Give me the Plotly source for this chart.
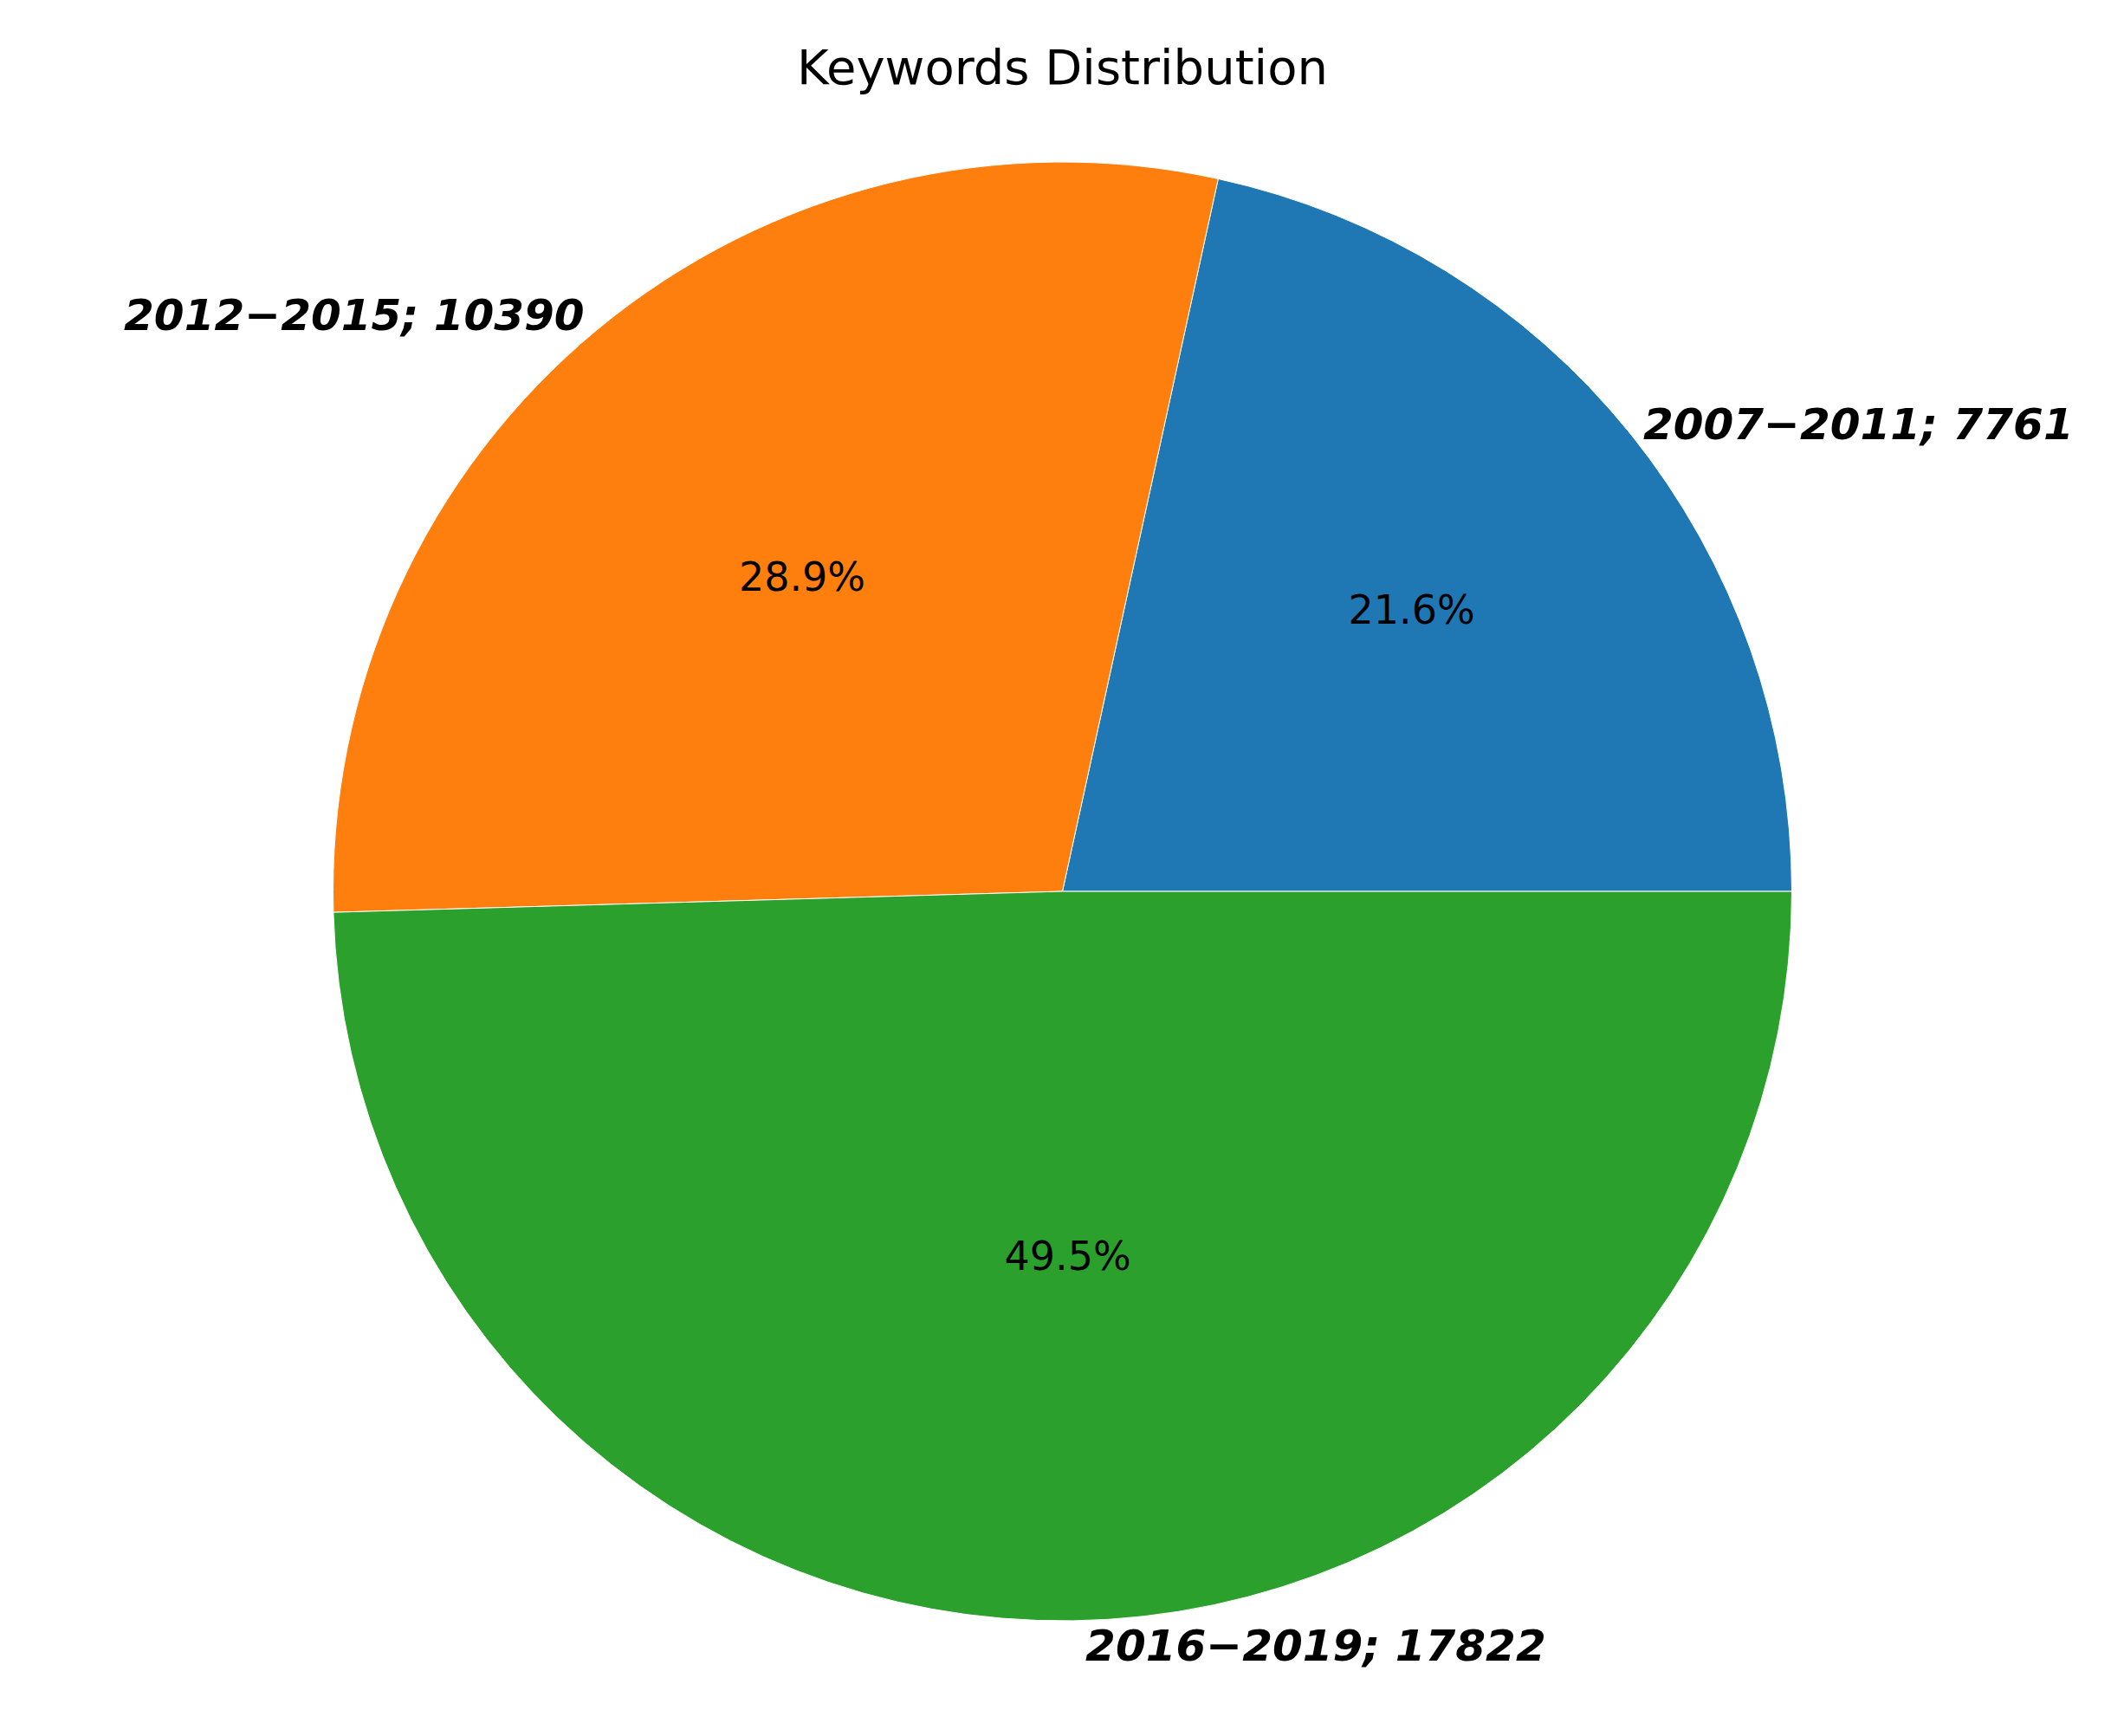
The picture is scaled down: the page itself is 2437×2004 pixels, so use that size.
import plotly.graph_objects as go

periods = ["2007\u22122011", "2012\u22122015", "2016\u22122019"]
counts = [7761, 10390, 17822]
colors = ["#1f77b4", "#ff7f0e", "#2ca02c"]

labels = [f"{p}; {c}" for p, c in zip(periods, counts)]
# plotly ends the first slice at the rotation angle when going counterclockwise,
# so shift it so the first slice starts at 3 o'clock like matplotlib
rot = 90 - 360 * counts[0] / sum(counts)

fig = go.Figure()
# filled slices with percentages inside
fig.add_trace(go.Pie(
    labels=periods, values=counts, sort=False, direction="counterclockwise",
    rotation=rot, marker=dict(colors=colors, line=dict(color="white", width=1)),
    texttemplate="%{percent:.1%}", textposition="inside", insidetextorientation="horizontal",
    textfont=dict(family="DejaVu Sans", size=46, color="black"),
    showlegend=False, hoverinfo="skip",
))
# transparent copy carrying the outside labels
fig.add_trace(go.Pie(
    labels=periods, values=counts, sort=False, direction="counterclockwise",
    rotation=rot, marker=dict(colors=["rgba(0,0,0,0)"] * 3),
    text=[f"<b><i>{l}</i></b>" for l in labels], texttemplate="%{text}",
    textposition="outside", automargin=False,
    textfont=dict(family="DejaVu Sans", size=50, color="black"),
    showlegend=False, hoverinfo="skip",
))

fig.update_layout(
    width=2437, height=2004,
    title=dict(text="Keywords Distribution", x=0.5, y=0.975, xanchor="center",
               font=dict(family="DejaVu Sans", size=56, color="black")),
    margin=dict(t=179, b=141, l=100, r=100),
    paper_bgcolor="white", plot_bgcolor="white",
)
fig.write_html("out.html")
